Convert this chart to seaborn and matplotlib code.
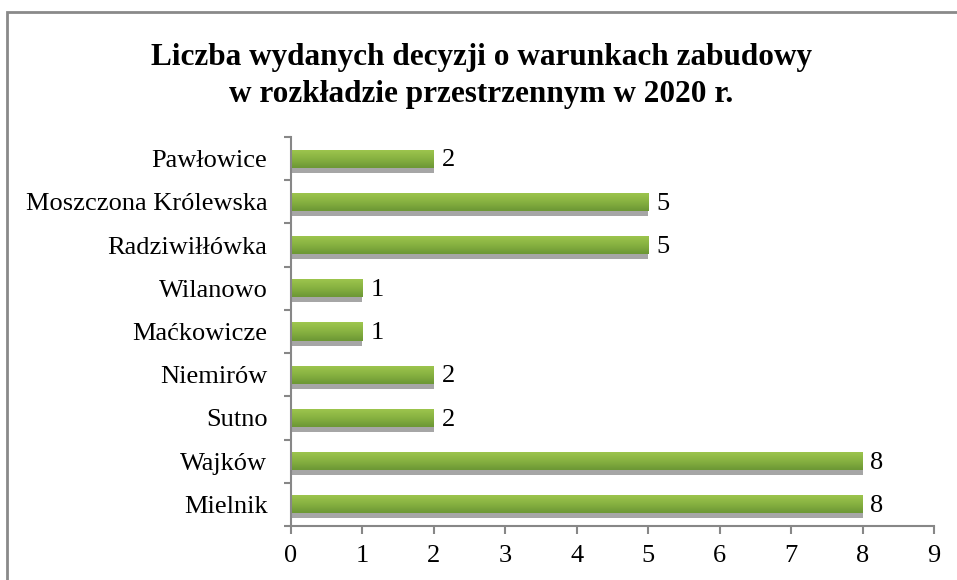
import numpy as np
import pandas as pd
import matplotlib
matplotlib.use("Agg")
import matplotlib.pyplot as plt
import seaborn as sns
from matplotlib.patches import Rectangle
from matplotlib.colors import LinearSegmentedColormap
import matplotlib.patheffects as pe

categories = ["Pawłowice", "Moszczona Królewska", "Radziwiłłówka", "Wilanowo",
              "Maćkowicze", "Niemirów", "Sutno", "Wajków", "Mielnik"]
values = [2, 5, 5, 1, 1, 2, 2, 8, 8]
x_ticks = [0, 1, 2, 3, 4, 5, 6, 7, 8, 9]
title = "Liczba wydanych decyzji o warunkach zabudowy\nw rozkładzie przestrzennym w 2020 r."

sns.set_theme(style="white")
plt.rcParams['font.family'] = ['Liberation Serif', 'DejaVu Serif']
plt.rcParams['text.color'] = 'black'
plt.rcParams['xtick.color'] = 'black'
plt.rcParams['ytick.color'] = 'black'
plt.rcParams['axes.labelcolor'] = 'black'

df = pd.DataFrame({"cat": categories, "val": values})

fig = plt.figure(figsize=(9.57, 5.8), dpi=100)
ax = fig.add_axes([291/957, 1-526/580, (934-291)/957, (526-137)/580])

sns.barplot(data=df, y="cat", x="val", orient="h", color="#8cb841",
            width=0.42, ax=ax, saturation=1, linewidth=0, edgecolor="none")

cmap = LinearSegmentedColormap.from_list("g", ["#9fc74f", "#88b241", "#6c9735"])
grad = np.linspace(0, 1, 64).reshape(-1, 1)
for p in ax.patches:
    p.set_linewidth(0)
    p.set_edgecolor("none")
    p.set_path_effects([pe.SimplePatchShadow(offset=(0, -3.6), shadow_rgbFace="#a6a6a6", alpha=1.0),
                        pe.Normal()])
    x0, y0 = p.get_x(), p.get_y()
    w, h = p.get_width(), p.get_height()
    im = ax.imshow(grad, cmap=cmap, aspect="auto", extent=[x0, x0 + w, y0 + h, y0],
                   origin="upper", zorder=p.get_zorder() + 0.1)
    im.set_clip_path(p)

ax.set_xlim(0, 9)
ax.set_ylim(len(categories) - 0.5, -0.5)
ax.set_xticks(x_ticks)
ax.set_xticklabels([str(t) for t in x_ticks], fontsize=19)
ax.set_yticks(range(len(categories)))
ax.set_yticklabels(categories, fontsize=19)
ax.set_yticks(np.arange(-0.5, len(categories), 1), minor=True)
ax.set_xlabel("")
ax.set_ylabel("")

for s in ["top", "right"]:
    ax.spines[s].set_visible(False)
for s in ["left", "bottom"]:
    ax.spines[s].set_color("#878787")
    ax.spines[s].set_linewidth(1.5)

ax.tick_params(axis="y", which="major", length=0, pad=17, colors="black")
ax.tick_params(axis="y", which="minor", length=5, width=1.5, color="#878787", direction="out", left=True)
ax.tick_params(axis="x", which="major", length=6, width=1.5, color="#878787", direction="out",
               bottom=True, pad=8, labelcolor="black")

for i, v in enumerate(values):
    ax.text(v + 0.11, i + 0.04, str(v), va="center", ha="left", fontsize=19, color="black")

fig.text(0.503, 1 - 76/580, title, ha="center", va="center", fontsize=22.5,
         fontweight="bold", linespacing=1.4, color="black")

fig.patches.append(Rectangle((7/957, -0.1), 1.2, 1 - 12/580 + 0.1, transform=fig.transFigure,
                             fill=False, edgecolor="#8a8a8a", linewidth=2.0))

fig.savefig("out.png", dpi=100)
